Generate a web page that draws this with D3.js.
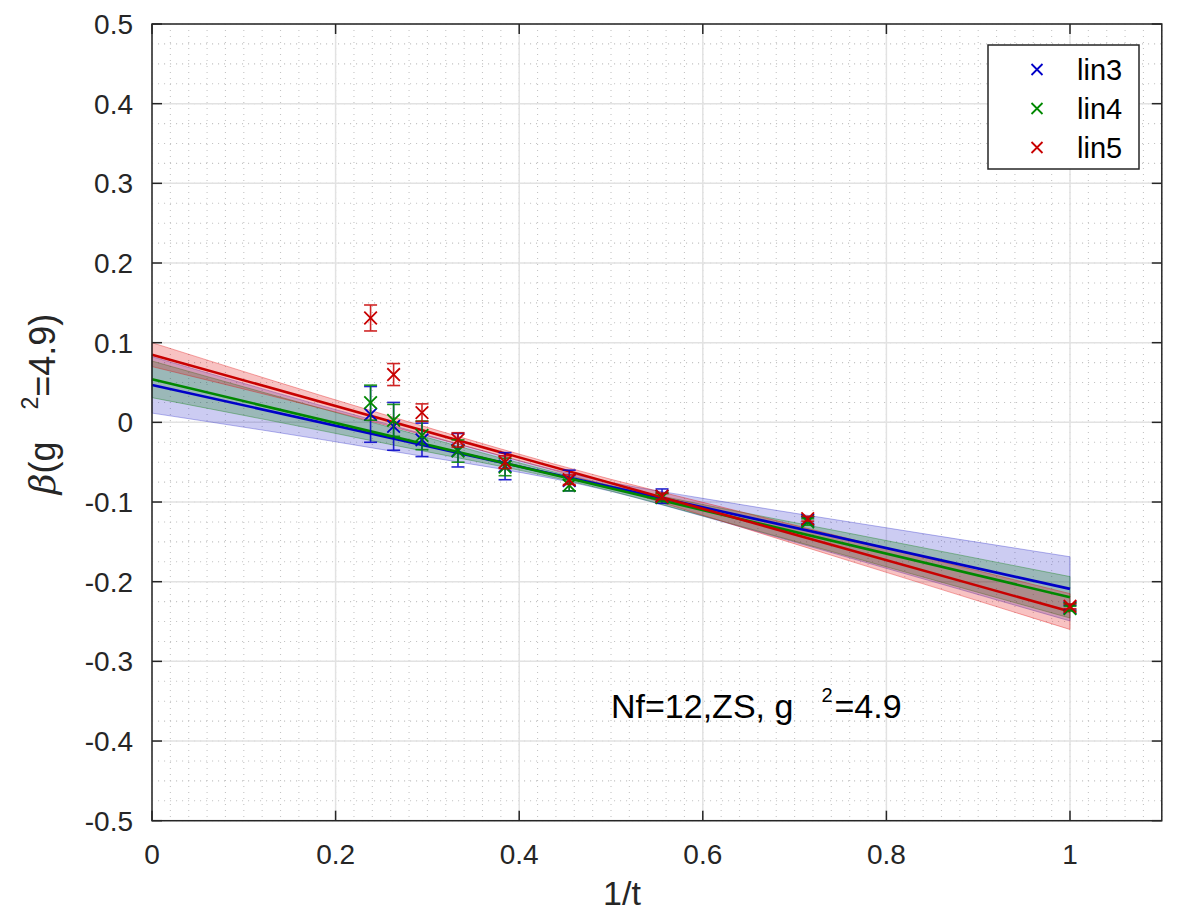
<!DOCTYPE html>
<html>
<head>
<meta charset="utf-8">
<script src="https://cdn.jsdelivr.net/npm/d3@7"></script>
<style>
  html, body { margin: 0; padding: 0; background: #fff; }
  svg { display: block; font-family: "Liberation Sans", Arial, Helvetica, sans-serif; }
</style>
</head>
<body>
<svg id="chart" width="1178" height="916"></svg>
<script>
// 1/t values of the flow times used in the extrapolation
const invT = [0.2381, 0.2632, 0.2941, 0.3333, 0.3846, 0.4545, 0.5556, 0.7143, 1.0];

// beta function estimates and their errors for each discretisation
const lin3 = [0.010, -0.005, -0.022, -0.035, -0.055, -0.073, -0.0926, -0.123, -0.2325];
const lin3Err = [0.035, 0.030, 0.021, 0.021, 0.017, 0.013, 0.009, 0.004, 0.003];
const lin4 = [0.0247, 0.0025, -0.0163, -0.036, -0.056, -0.079, -0.0945, -0.125, -0.2338];
const lin4Err = [0.022, 0.020, 0.018, 0.014, 0.011, 0.007, 0.005, 0.004, 0.003];
const lin5 = [0.131, 0.060, 0.0122, -0.022, -0.050, -0.072, -0.0928, -0.121, -0.2309];
const lin5Err = [0.0163, 0.0138, 0.011, 0.009, 0.008, 0.006, 0.004, 0.003, 0.003];

// linear fits in 1/t (evaluated at the ends of the fit range)
const fitX = [0, 1];
const lin3Fit = [0.047, -0.209];
const lin4Fit = [0.054, -0.2196];
const lin5Fit = [0.085, -0.2375];

// error bands of the fits
const bandX = [0, 0.25, 0.5, 0.6, 0.75, 1];
const lin3Lo = [0.0116, -0.034, -0.0866, -0.1178, -0.1668, -0.2493];
const lin3Hi = [0.0824, 0.0000, -0.0754, -0.0954, -0.1232, -0.1687];
const lin4Lo = [0.031, -0.0255, -0.0862, -0.1173, -0.1653, -0.2456];
const lin4Hi = [0.077, -0.0033, -0.0794, -0.1031, -0.1371, -0.1936];
const lin5Lo = [0.070, -0.002, -0.0811, -0.1166, -0.1704, -0.260];
const lin5Hi = [0.100, 0.0108, -0.0715, -0.1004, -0.1434, -0.215];

const seriesNames = ["lin3", "lin4", "lin5"];

// axis ticks
const xTicks = [0, 0.2, 0.4, 0.6, 0.8, 1];
const xTickLabels = ["0", "0.2", "0.4", "0.6", "0.8", "1"];
const yTicks = [0.5, 0.4, 0.3, 0.2, 0.1, 0, -0.1, -0.2, -0.3, -0.4, -0.5];
const yTickLabels = ["0.5", "0.4", "0.3", "0.2", "0.1", "0", "-0.1", "-0.2", "-0.3", "-0.4", "-0.5"];
const xMinor = d3.range(0, 1.1001, 0.02);
const yMinor = d3.range(-0.5, 0.5001, 0.025);

const colors = ["#0000c8", "#008800", "#c80000"];
const bandFill = ["#2a2ac8", "#007a00", "#e00000"];

const series = [
  { name: seriesNames[0], y: lin3, err: lin3Err, fit: lin3Fit, lo: lin3Lo, hi: lin3Hi },
  { name: seriesNames[1], y: lin4, err: lin4Err, fit: lin4Fit, lo: lin4Lo, hi: lin4Hi },
  { name: seriesNames[2], y: lin5, err: lin5Err, fit: lin5Fit, lo: lin5Lo, hi: lin5Hi }
];

const L = 152, R = 1161.8, T = 24, B = 820.7;
const x = d3.scaleLinear().domain([0, 1.1]).range([L, R]);
const y = d3.scaleLinear().domain([-0.5, 0.5]).range([B, T]);

const svg = d3.select("#chart");
const axisColor = "#262626";

// minor grid (dotted)
const gMinor = svg.append("g").attr("stroke", "#c4c4c4").attr("stroke-width", 1.1)
  .attr("stroke-dasharray", "1.1,4.9");
gMinor.selectAll("line.vx").data(xMinor).join("line")
  .attr("x1", d => x(d)).attr("x2", d => x(d)).attr("y1", T).attr("y2", B);
gMinor.selectAll("line.hy").data(yMinor).join("line")
  .attr("x1", L).attr("x2", R).attr("y1", d => y(d)).attr("y2", d => y(d));

// major grid
const gMajor = svg.append("g").attr("stroke", "#e2e2e2").attr("stroke-width", 1.5);
gMajor.selectAll("line.vx").data(xTicks).join("line")
  .attr("x1", d => x(d)).attr("x2", d => x(d)).attr("y1", T).attr("y2", B);
gMajor.selectAll("line.hy").data(yTicks).join("line")
  .attr("x1", L).attr("x2", R).attr("y1", d => y(d)).attr("y2", d => y(d));

// fit error bands
const area = d3.area()
  .x((d, i) => x(bandX[i]))
  .y0(d => y(d[0]))
  .y1(d => y(d[1]))
  .curve(d3.curveMonotoneX);
series.forEach((s, k) => {
  const pts = s.lo.map((v, i) => [v, s.hi[i]]);
  svg.append("path").datum(pts)
    .attr("d", area)
    .attr("fill", bandFill[k]).attr("fill-opacity", 0.24)
    .attr("stroke", bandFill[k]).attr("stroke-opacity", 0.35).attr("stroke-width", 1);
});

// fit lines
const line = d3.line().x((d, i) => x(fitX[i])).y(d => y(d));
series.forEach((s, k) => {
  svg.append("path").datum(s.fit).attr("d", line)
    .attr("fill", "none").attr("stroke", colors[k]).attr("stroke-width", 2.6);
});

// data points with error bars
const cap = 6.5, mk = 6.3;
series.forEach((s, k) => {
  const g = svg.append("g").attr("stroke", colors[k]).attr("stroke-width", 1.6).attr("fill", "none");
  const pts = invT.map((t, i) => ({ t, v: s.y[i], e: s.err[i] }));
  const eb = g.selectAll("g.eb").data(pts).join("g").attr("opacity", 0.85);
  eb.append("line").attr("x1", d => x(d.t)).attr("x2", d => x(d.t))
    .attr("y1", d => y(d.v - d.e)).attr("y2", d => y(d.v + d.e));
  eb.append("line").attr("x1", d => x(d.t) - cap).attr("x2", d => x(d.t) + cap)
    .attr("y1", d => y(d.v + d.e)).attr("y2", d => y(d.v + d.e));
  eb.append("line").attr("x1", d => x(d.t) - cap).attr("x2", d => x(d.t) + cap)
    .attr("y1", d => y(d.v - d.e)).attr("y2", d => y(d.v - d.e));
  g.selectAll("path.mk").data(pts).join("path")
    .attr("stroke-width", 1.8)
    .attr("d", d => {
      const cx = x(d.t), cy = y(d.v);
      return `M${cx - mk},${cy - mk}L${cx + mk},${cy + mk}M${cx - mk},${cy + mk}L${cx + mk},${cy - mk}`;
    });
});

// axes box and inward ticks
svg.append("rect").attr("x", L).attr("y", T).attr("width", R - L).attr("height", B - T)
  .attr("fill", "none").attr("stroke", axisColor).attr("stroke-width", 1.5);
const tl = 10;
const gt = svg.append("g").attr("stroke", axisColor).attr("stroke-width", 1.5);
xTicks.forEach(v => {
  gt.append("line").attr("x1", x(v)).attr("x2", x(v)).attr("y1", B).attr("y2", B - tl);
  gt.append("line").attr("x1", x(v)).attr("x2", x(v)).attr("y1", T).attr("y2", T + tl);
});
yTicks.forEach(v => {
  gt.append("line").attr("x1", L).attr("x2", L + tl).attr("y1", y(v)).attr("y2", y(v));
  gt.append("line").attr("x1", R).attr("x2", R - tl).attr("y1", y(v)).attr("y2", y(v));
});

// tick labels
svg.append("g").selectAll("text").data(xTicks).join("text")
  .attr("x", d => x(d)).attr("y", 864)
  .attr("text-anchor", "middle").attr("font-size", 28).attr("fill", axisColor)
  .text((d, i) => xTickLabels[i]);
svg.append("g").selectAll("text").data(yTicks).join("text")
  .attr("x", 133).attr("y", d => y(d) + 10)
  .attr("text-anchor", "end").attr("font-size", 28).attr("fill", axisColor)
  .text((d, i) => yTickLabels[i]);

// axis labels
svg.append("text").attr("x", 622).attr("y", 905).attr("text-anchor", "middle")
  .attr("font-size", 34).attr("fill", axisColor).text("1/t");

const yl = svg.append("text")
  .attr("transform", "translate(55,404) rotate(-90)")
  .attr("text-anchor", "middle").attr("font-size", 36).attr("fill", axisColor);
yl.append("tspan").attr("font-family", "'DejaVu Serif', 'Liberation Serif', serif")
  .attr("font-style", "italic").text("β");
yl.append("tspan").text("(g");
yl.append("tspan").attr("dx", 32).attr("dy", -17).attr("font-size", 23).text("2");
yl.append("tspan").attr("dy", 17).text("=4.9)");

// annotation
const ann = svg.append("text").attr("x", 611).attr("y", 718)
  .attr("font-size", 34).attr("fill", "#000");
ann.append("tspan").text("Nf=12,ZS, g");
ann.append("tspan").attr("dx", 28).attr("dy", -16).attr("font-size", 20).text("2");
ann.append("tspan").attr("dx", 2).attr("dy", 16).text("=4.9");

// legend
const lg = svg.append("g");
lg.append("rect").attr("x", 988).attr("y", 45).attr("width", 151).attr("height", 124)
  .attr("fill", "#fff").attr("stroke", axisColor).attr("stroke-width", 1.5);
series.forEach((s, k) => {
  const cy = 69.5 + k * 39, cx = 1037, r = 5.5;
  lg.append("path")
    .attr("d", `M${cx - r},${cy - r}L${cx + r},${cy + r}M${cx - r},${cy + r}L${cx + r},${cy - r}`)
    .attr("stroke", colors[k]).attr("stroke-width", 1.8);
  lg.append("text").attr("x", 1077).attr("y", cy + 10.5)
    .attr("font-size", 29).attr("fill", "#000").text(s.name);
});
</script>
</body>
</html>
